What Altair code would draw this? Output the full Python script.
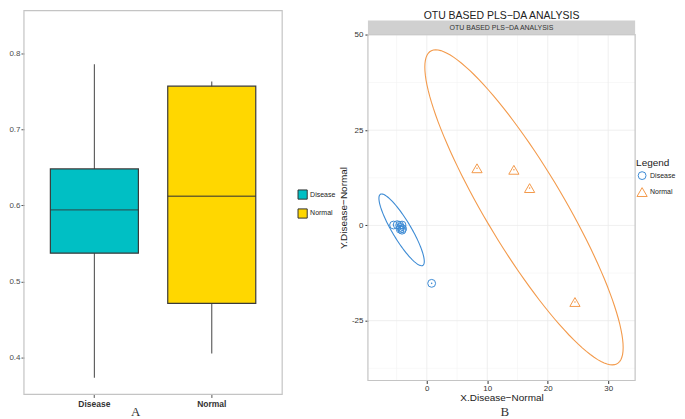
import altair as alt
import pandas as pd

groups = ["Disease", "Normal"]

# Panel A: box statistics
box_low = [0.373, 0.405]
box_q1 = [0.537, 0.471]
box_median = [0.594, 0.612]
box_q3 = [0.648, 0.757]
box_high = [0.786, 0.763]
box_colors = ["#00bfc4", "#ffd700"]
a_ticks = [0.4, 0.5, 0.6, 0.7, 0.8]

# Panel B: PLS-DA scores
disease_x = [-5.5, -4.9, -4.5, -4.1, -4.35, -4.0, -4.4, -4.1, 0.8]
disease_y = [0.1, 0.2, 0.05, 0.1, -0.5, -0.85, -1.0, -1.25, -15.2]
normal_x = [8.3, 14.4, 17.0, 24.5]
normal_y = [15.0, 14.6, 9.8, -20.1]
point_colors = ["#3d8bd4", "#f39a4b"]
point_shapes = ["circle", "triangle-up"]

# confidence ellipse parameters per group (centre, spread, correlation)
ell_cx = [-4.17, 16.07]
ell_cy = [-1.16, 4.75]
ell_sx = [3.75, 16.4]
ell_sy = [9.41, 41.35]
ell_r = [-0.88, -0.89]

x_major = [0, 10, 20, 30]
x_minor = [-5, 5, 15, 25]
y_major = [-25, 0, 25, 50]
y_minor = [-37.5, -12.5, 12.5, 37.5]

TITLE = "OTU BASED PLS\u2212DA ANALYSIS"
FONT = "Liberation Sans"
FRAME = "#c4c4c4"
one = pd.DataFrame({"k": [0]})

# ---------------- Panel A ----------------
A_W, A_H = 259, 385
bw = A_W / 2.2 * 0.75
box_df = pd.DataFrame({"group": groups, "low": box_low, "q1": box_q1,
                       "median": box_median, "q3": box_q3, "high": box_high})

axA_x = alt.Axis(title=None, labelAngle=0, labelFontWeight="bold", labelFontSize=8.5,
                 labelColor="#333333", tickSize=3, tickColor="#555555", domain=False,
                 labelPadding=2)
axA_y = alt.Axis(title=None, values=a_ticks, format=".1f", labelFontSize=8,
                 labelColor="#4d4d4d", tickSize=3, tickColor="#555555", domain=False,
                 grid=False, labelPadding=1)
scA_x = alt.Scale(type="band", domain=groups, paddingInner=0.25, paddingOuter=0.225)
scA_y = alt.Scale(domain=[0.351, 0.8565], nice=False, zero=False)

baseA = alt.Chart(box_df)
frameA = alt.Chart(one).mark_rect(fill="transparent", stroke=FRAME, strokeWidth=1.2).encode(
    x=alt.value(0), x2=alt.value(A_W), y=alt.value(0), y2=alt.value(A_H))
whisk = baseA.mark_rule(color="#555555", strokeWidth=1.1).encode(
    x=alt.X("group:N", scale=scA_x, axis=axA_x),
    y=alt.Y("low:Q", scale=scA_y, axis=axA_y),
    y2="high:Q",
)
boxes = baseA.mark_bar(stroke="#3a3a3a", strokeWidth=1.2).encode(
    x=alt.X("group:N", scale=scA_x, axis=axA_x),
    y=alt.Y("q1:Q", scale=scA_y, axis=axA_y),
    y2="q3:Q",
    color=alt.Color("group:N", scale=alt.Scale(domain=groups, range=box_colors),
                    legend=alt.Legend(title=None, orient="none", legendX=274, legendY=179,
                                      symbolType="square", symbolSize=85, padding=0,
                                      symbolStrokeColor="#333333", symbolStrokeWidth=1,
                                      labelFontSize=7, labelColor="#222222",
                                      labelOffset=2, rowPadding=4)),
)
meds = baseA.mark_tick(color="#333333", thickness=1.3, size=bw).encode(
    x=alt.X("group:N", scale=scA_x, axis=axA_x),
    y=alt.Y("median:Q", scale=scA_y, axis=axA_y),
)
capA = alt.Chart(one).mark_text(
    font="Liberation Serif", fontSize=13, color="#333333", baseline="middle"
).encode(x=alt.value(112), y=alt.value(403), text=alt.value("A"))

panelA = alt.layer(frameA, whisk, boxes, meds, capA).properties(width=A_W, height=A_H)

# ---------------- Panel B ----------------
B_W, B_H = 268, 371
B_TOP = 24  # top of the data area inside the panel (strip and title sit above it)
scB_x = alt.Scale(domain=[-9.74, 34.45], nice=False, zero=False)
scB_y = alt.Scale(domain=[-40.7, 50.1], nice=False, zero=False, range=[B_H, B_TOP])
axB_x = alt.Axis(values=x_major, title="X.Disease\u2212Normal", titleFontSize=10,
                 titleFontWeight="normal", titleColor="#222222", titlePadding=0,
                 labelFontSize=8, labelColor="#333333", tickSize=3, tickColor="#333333",
                 domain=False, grid=False, labelPadding=1)
axB_y = alt.Axis(values=y_major, title="Y.Disease\u2212Normal", titleFontSize=10,
                 titleFontWeight="normal", titleColor="#222222", titlePadding=3,
                 labelFontSize=8, labelColor="#333333", tickSize=3, tickColor="#333333",
                 domain=False, grid=False, labelPadding=2, labelExpr="'' + datum.value")


def bx(field):
    return alt.X(field, scale=scB_x, axis=axB_x)


def by(field):
    return alt.Y(field, scale=scB_y, axis=axB_y)


grid_x_major = alt.Chart(pd.DataFrame({"gx": x_major})).mark_rule(
    color="#ebebeb", strokeWidth=0.8).encode(x=bx("gx:Q"), y=alt.value(B_TOP), y2=alt.value(B_H))
grid_x_minor = alt.Chart(pd.DataFrame({"mx": x_minor})).mark_rule(
    color="#f4f4f4", strokeWidth=0.6).encode(x=bx("mx:Q"), y=alt.value(B_TOP), y2=alt.value(B_H))
grid_y_major = alt.Chart(pd.DataFrame({"gy": y_major})).mark_rule(
    color="#ebebeb", strokeWidth=0.8).encode(y=by("gy:Q"))
grid_y_minor = alt.Chart(pd.DataFrame({"my": y_minor})).mark_rule(
    color="#f4f4f4", strokeWidth=0.6).encode(y=by("my:Q"))

pts = pd.DataFrame({
    "x": disease_x + normal_x,
    "y": disease_y + normal_y,
    "group": ["Disease"] * len(disease_x) + ["Normal"] * len(normal_x),
})

legB = alt.Legend(title="Legend", orient="none", legendX=269, legendY=148, padding=0,
                  titleFontSize=10, titleFontWeight="normal", titleColor="#222222",
                  titlePadding=3, labelFontSize=7, labelColor="#222222",
                  symbolSize=70, symbolStrokeWidth=1, rowPadding=3, labelOffset=2)

points = alt.Chart(pts).mark_point(filled=False, strokeWidth=1, opacity=1).encode(
    x=bx("x:Q"), y=by("y:Q"),
    color=alt.Color("group:N", scale=alt.Scale(domain=groups, range=point_colors), legend=legB),
    shape=alt.Shape("group:N", scale=alt.Scale(domain=groups, range=point_shapes), legend=legB),
    size=alt.Size("group:N", scale=alt.Scale(domain=groups, range=[62, 105]), legend=None),
)

ellipses = []
dots = []
for i, g in enumerate(groups):
    t = "datum.deg*PI/180"
    ex = f"{ell_cx[i]} + {ell_sx[i]}*cos({t})"
    ey = (f"{ell_cy[i]} + {ell_sy[i]}*(({ell_r[i]})*cos({t}) + "
          f"sqrt(1-({ell_r[i]})*({ell_r[i]}))*sin({t}))")
    ellipses.append(
        alt.Chart(alt.sequence(0, 364, 3, as_="deg"))
        .transform_calculate(ex=ex, ey=ey)
        .mark_line(color=point_colors[i], strokeWidth=1.1)
        .encode(x=bx("ex:Q"), y=by("ey:Q"), order="deg:Q")
    )
    dots.append(
        alt.Chart(pts).transform_filter(alt.datum.group == g)
        .mark_circle(size=2.5, color=point_colors[i], opacity=1)
        .encode(x=bx("x:Q"), y=by("y:Q"))
    )

frameB = alt.Chart(one).mark_rect(fill="transparent", stroke=FRAME, strokeWidth=1.2).encode(
    x=alt.value(0), x2=alt.value(B_W), y=alt.value(B_TOP), y2=alt.value(B_H))
strip = alt.Chart(one).mark_rect(fill="#d0d0d0").encode(
    x=alt.value(0), x2=alt.value(B_W), y=alt.value(B_TOP - 14), y2=alt.value(B_TOP))
strip_txt = alt.Chart(one).mark_text(font=FONT, fontSize=7, color="#333333",
                                     baseline="middle").encode(
    x=alt.value(B_W / 2), y=alt.value(B_TOP - 7), text=alt.value(TITLE))
title_txt = alt.Chart(one).mark_text(font=FONT, fontSize=10.5, color="#222222",
                                     baseline="middle").encode(
    x=alt.value(B_W / 2), y=alt.value(5.5), text=alt.value(TITLE))
capB = alt.Chart(one).mark_text(font="Liberation Serif", fontSize=13, color="#333333",
                                baseline="middle").encode(
    x=alt.value(137.4), y=alt.value(B_H + 32), text=alt.value("B"))

panelB = alt.layer(grid_x_minor, grid_y_minor, grid_x_major, grid_y_major, frameB,
                   *ellipses, points, *dots,
                   strip, strip_txt, title_txt, capB).properties(width=B_W, height=B_H)

chart = (
    alt.hconcat(panelA, panelB, spacing=0)
    .resolve_scale(color="independent", shape="independent", size="independent")
    .properties(padding=0, background="white")
    .configure(font=FONT)
    .configure_view(stroke="transparent")
)

chart.save("out.html", embed_options={"renderer": "svg", "actions": False})
